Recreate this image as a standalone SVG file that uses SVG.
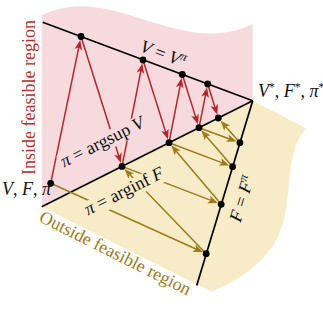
<svg xmlns="http://www.w3.org/2000/svg" width="323" height="316" viewBox="0 0 323 316">
<style>
.axis{stroke:#000;stroke-width:1.7;fill:none}
.red{stroke:#b3262c;stroke-width:1.5;fill:none;marker-end:url(#ahr)}
.gold{stroke:#9c7c1a;stroke-width:1.5;fill:none;marker-end:url(#ahg)}
.dot{fill:#000}
.math{font-family:"Liberation Serif","DejaVu Serif",serif;font-size:18px;fill:#111}
.it{font-style:italic}
.lblr{font-family:"Liberation Serif","DejaVu Serif",serif;font-size:18px;fill:#b0302f}
.lblg{font-family:"Liberation Serif","DejaVu Serif",serif;font-size:18px;fill:#9c7a1e}
</style>
<defs>
<marker id="ahr" markerUnits="userSpaceOnUse" viewBox="-5 -5 12 10" markerWidth="12" markerHeight="10" refX="0" refY="0" orient="auto">
<path d="M6,0 L-4,-3.9 L-1.5,0 L-4,3.9 Z" fill="#b3262c"/>
</marker>
<marker id="ahg" markerUnits="userSpaceOnUse" viewBox="-5 -5 12 10" markerWidth="12" markerHeight="10" refX="0" refY="0" orient="auto">
<path d="M6,0 L-4,-3.9 L-1.5,0 L-4,3.9 Z" fill="#9c7c1a"/>
</marker>
</defs>

<g id="regions">
<path id="inside" d="M41.7,15.5 C110,-20 180,60 252.7,24 L252.7,100.7 L41.7,206.7 Z" fill="#f7dadd"/>
<path id="outside" d="M41.7,206.7 L252.7,100.7 L306,128.3 C268,175 322,245 211.7,291.7 Z" fill="#f8ebc8"/>
</g>

<g id="lines">
<line class="axis" x1="42.7" y1="22.2" x2="252.7" y2="100.7"/>
<line class="axis" x1="41.7" y1="206.7" x2="252.7" y2="100.7"/>
<line class="axis" x1="252.7" y1="100.7" x2="196.7" y2="285.5"/>
</g>

<g id="connectors">
<line class="red" x1="50.7" y1="183.3" x2="79.08" y2="45.8"/>
<line class="red" x1="81" y1="36.5" x2="119.14" y2="157.34"/>
<line class="red" x1="122" y1="166.4" x2="141.16" y2="69.32"/>
<line class="red" x1="143" y1="60" x2="166.15" y2="133.64"/>
<line class="red" x1="169" y1="142.7" x2="180.48" y2="83.83"/>
<line class="red" x1="182.3" y1="74.5" x2="196.15" y2="118.64"/>
<line class="red" x1="199" y1="127.7" x2="205.85" y2="93.32"/>
<line class="red" x1="207.7" y1="84" x2="215.47" y2="108.93"/>
<line class="gold" x1="50.7" y1="183.3" x2="197.55" y2="249.78"/>
<line class="gold" x1="206.2" y1="253.7" x2="128.59" y2="173.24"/>
<line class="gold" x1="122" y1="166.4" x2="212.33" y2="200.91"/>
<line class="gold" x1="221.2" y1="204.3" x2="175.14" y2="149.95"/>
<line class="gold" x1="169" y1="142.7" x2="223.71" y2="163.35"/>
<line class="gold" x1="232.6" y1="166.7" x2="205.2" y2="134.9"/>
<line class="gold" x1="199" y1="127.7" x2="230.98" y2="139.43"/>
<line class="gold" x1="239.9" y1="142.7" x2="224.55" y2="125.15"/>
</g>

<g id="labels-on-lines">
<g transform="translate(64,167.5) rotate(-26.6)">
<rect x="-2" y="-13.5" width="94" height="18" fill="#f7dadd"/>
<text class="math" x="0" y="0"><tspan class="it">π</tspan> = argsup <tspan class="it">V</tspan></text>
</g>
<g transform="translate(88,215.5) rotate(-26.6)">
<rect x="-2" y="-13.5" width="90" height="18" fill="#f8ebc8"/>
<text class="math" x="0" y="0"><tspan class="it">π</tspan> = arginf <tspan class="it">F</tspan></text>
</g>
<text class="math" transform="translate(139,51) rotate(20.5)"><tspan class="it">V</tspan> = <tspan class="it">V</tspan><tspan class="it" font-size="12.5" dy="-6.5">π</tspan></text>
<text class="math" transform="translate(240.5,223) rotate(-73)"><tspan class="it">F</tspan> = <tspan class="it">F</tspan><tspan class="it" font-size="12.5" dy="-6.5">π</tspan></text>
</g>

<g id="start"><circle class="dot" cx="50.7" cy="183.3" r="3.4"/><text class="math" x="2" y="195" font-size="17"><tspan class="it">V</tspan>, <tspan class="it">F</tspan>, <tspan class="it">π</tspan></text></g>
<g id="optimum"><text class="math" x="258" y="97"><tspan class="it">V</tspan><tspan font-size="11.5" dy="-6.5">*</tspan><tspan dy="6.5">, </tspan><tspan class="it">F</tspan><tspan font-size="11.5" dy="-6.5">*</tspan><tspan dy="6.5">, </tspan><tspan class="it">π</tspan><tspan font-size="11.5" dy="-6.5">*</tspan></text></g>
<g id="p1"><circle class="dot" cx="81" cy="36.5" r="3.4"/></g>
<g id="p2"><circle class="dot" cx="143" cy="60" r="3.4"/></g>
<g id="p3"><circle class="dot" cx="182.3" cy="74.5" r="3.4"/></g>
<g id="p4"><circle class="dot" cx="207.7" cy="84" r="3.4"/></g>
<g id="m1"><circle class="dot" cx="122" cy="166.4" r="3.4"/></g>
<g id="m2"><circle class="dot" cx="169" cy="142.7" r="3.4"/></g>
<g id="m3"><circle class="dot" cx="199" cy="127.7" r="3.4"/></g>
<g id="m4"><circle class="dot" cx="218.3" cy="118" r="3.4"/></g>
<g id="r1"><circle class="dot" cx="239.9" cy="142.7" r="3.4"/></g>
<g id="r2"><circle class="dot" cx="232.6" cy="166.7" r="3.4"/></g>
<g id="r3"><circle class="dot" cx="221.2" cy="204.3" r="3.4"/></g>
<g id="r4"><circle class="dot" cx="206.2" cy="253.7" r="3.4"/></g>

<text class="lblr" transform="translate(35,175) rotate(-90)">Inside feasible region</text>
<text class="lblg" transform="translate(38,221) rotate(26.5)">Outside feasible region</text>
</svg>
